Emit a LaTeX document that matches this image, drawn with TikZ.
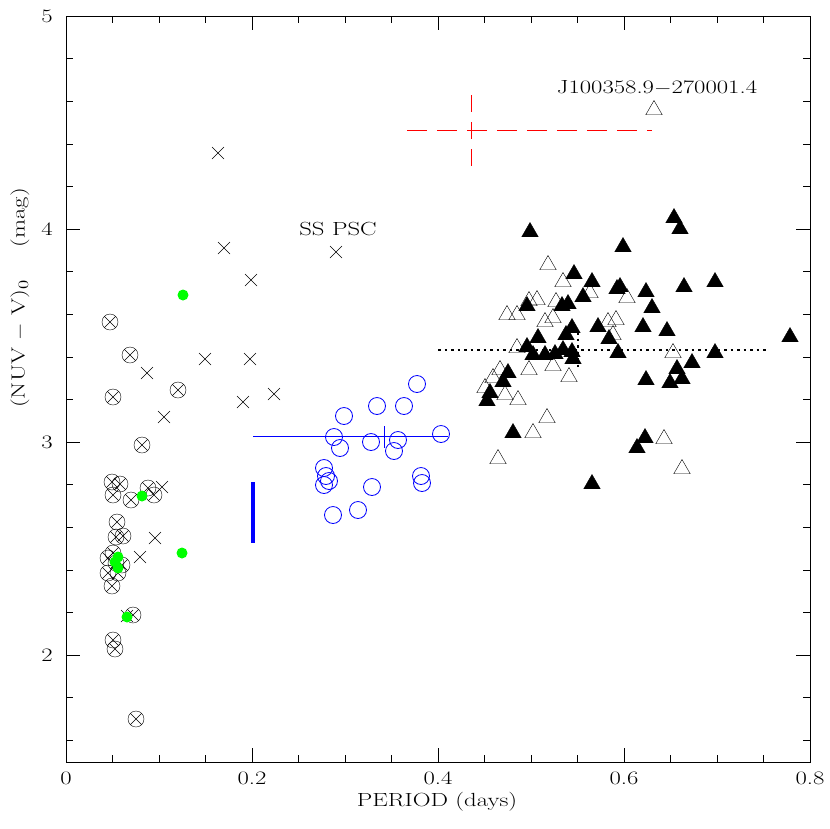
\documentclass[tikz,border=0pt]{standalone}
\usepackage{fontspec}
\usetikzlibrary{shapes.geometric}
\begin{document}
\begin{tikzpicture}[x=1pt,y=-1pt,
  ftri/.style={regular polygon,regular polygon sides=3,fill=black,draw=black,minimum size=19pt,inner sep=0pt},
  otri/.style={regular polygon,regular polygon sides=3,draw=black,fill=none,minimum size=19pt,inner sep=0pt},
  bcirc/.style={circle,draw=blue,thick,minimum size=17pt,inner sep=0pt},
  gdot/.style={circle,fill=green,minimum size=11pt,inner sep=0pt},
  lbl/.style={font=\fontsize{19pt}{21pt}\selectfont,xscale=1.3,transform shape,inner sep=1pt},
  ylbl/.style={font=\fontsize{19pt}{21pt}\selectfont,rotate=90,xscale=1.3,transform shape,inner sep=1pt},
  cx/.pic={\draw (0,0) circle (8pt); \draw (-5.66,-5.66)--(5.66,5.66) (-5.66,5.66)--(5.66,-5.66);},
  xm/.pic={\draw (-6,-6)--(6,6) (-6,6)--(6,-6);}]
\useasboundingbox (0,0) rectangle (830,828);
\fill[white] (0,0) rectangle (830,828);
% frame
\node[draw,minimum width=744pt,minimum height=746pt,inner sep=0pt,anchor=north west] (frame) at (66,16) {};
% x ticks
\foreach \i in {0,...,16}{\pgfmathsetmacro\xx{66+\i*46.5}
  \pgfmathsetmacro\ll{mod(\i,4)==0?14:7}
  \draw (\xx,762)--(\xx,762-\ll) (\xx,16)--(\xx,16+\ll);}
\foreach \v/\t in {0/0,0.2/0.2,0.4/0.4,0.6/0.6,0.8/0.8}{\node[lbl] (xl\t) at ({66+930*\v},778) {\t};}
% y ticks
\foreach \i in {0,...,17}{\pgfmathsetmacro\yy{16+(3.4-0.2*\i)*213}
  \pgfmathsetmacro\ll{mod(\i+3,5)==0?14:7}
  \draw (66,\yy)--(66+\ll,\yy) (810,\yy)--(810-\ll,\yy);}
\foreach \v in {2,3,4,5}{\node[lbl] (yl\v) at (47,{16+(5-\v)*213}) {\v};}
\node[lbl] (xlab) at (437,802) {PERIOD (days)};
\node[ylbl] (ylab) at (20,298) {(NUV $-$ V)$_0$\quad\ (mag)};
% circled crosses
\foreach \p in {(110,322),(130,355),(113,397),(178,390),(142,445),(112,482),(120,484),(113,495),(131,500),(148,488),(154,495),(117,522),(116,537),(123,536),(113,553),(108,558),(122,565),(108,573),(118,573),(112,586),(116,563),(133,615),(113,640),(115,649),(136,719)}
  \pic at \p {cx};
% crosses
\foreach \p in {(218,153),(224,248),(251,280),(336,252),(205,359),(250,359),(147,373),(243,402),(164,417),(274,394),(162,487),(155,538),(140,557),(127,616)}
  \pic at \p {xm};
% green dots
\foreach \p [count=\k] in {(183,295),(142,496),(182,553),(127,617),(118,557),(115,562),(118,568)}
  \node[gdot] (g\k) at \p {};
% blue circles
\foreach \p [count=\k] in {(417,384),(404,406),(344,416),(377,406),(398,440),(371,442),(334,437),(441,434),(394,451),(340,448),(421,476),(324,468),(326,476),(329,481),(324,485),(372,487),(422,483),(358,510),(333,515)}
  \node[bcirc] (b\k) at \p {};
\coordinate (bl) at (253,436); \coordinate (br) at (448,436);
\draw[blue,thick] (bl)--(br);
\coordinate (bt) at (384,426); \coordinate (bb) at (384,448);
\draw[blue,thick] (bt)--(bb);
\coordinate (vt) at (253,482); \coordinate (vb) at (253,543);
\draw[blue,line width=3.5pt] (vt)--(vb);
% red error cross
\coordinate (rl) at (407,130); \coordinate (rr) at (652,130);
\coordinate (rt) at (471,95); \coordinate (rb) at (471,167);
\draw[red,thick,dash pattern=on 20pt off 10pt] (rl)--(rr);
\draw[red,thick,dash pattern=on 17pt off 10pt] (rt)--(rb);
% dotted lines
\coordinate (dl) at (438,350); \coordinate (dr) at (768,350);
\draw[line width=1.6pt,dash pattern=on 2.5pt off 4pt] (dl)--(dr);
\coordinate (dt) at (578,332); \coordinate (db) at (578,370);
\draw[line width=1.6pt,dash pattern=on 2.5pt off 4pt] (dt)--(db);
% filled triangles
\foreach \p [count=\k] in {(530,232),(674,218),(680,229),(623,247),(574,274),(592,282),(617,289),(620,287),(646,292),(684,287),(715,282),(583,297),(568,304),(562,306),(527,306),(652,308),(598,327),(572,328),(566,335),(538,338),(643,327),(667,331),(609,339),(790,337),(527,347),(533,355),(545,355),(555,354),(563,350),(572,352),(573,359),(618,353),(715,353),(692,363),(677,369),(682,379),(670,383),(646,380),(508,373),(503,382),(490,393),(487,401),(513,433),(645,438),(637,448),(592,484)}
  \node[ftri] (f\k) at \p {};
% open triangles
\foreach \p [count=\k] in {(548,265),(563,282),(590,293),(627,298),(529,301),(537,300),(556,302),(507,315),(517,315),(545,322),(553,318),(608,322),(616,320),(613,335),(517,348),(673,353),(500,370),(493,378),(529,370),(553,366),(569,377),(485,388),(505,395),(518,400),(547,418),(533,433),(664,439),(498,459),(682,469)}
  \node[otri] (o\k) at \p {};
\node[otri] (jt) at (654,110) {};
\node[lbl] (jlab) at (657,88) {J100358.9$-$270001.4};
\node[lbl] (sslab) at (338,229) {SS PSC};
\end{tikzpicture}
\end{document}
